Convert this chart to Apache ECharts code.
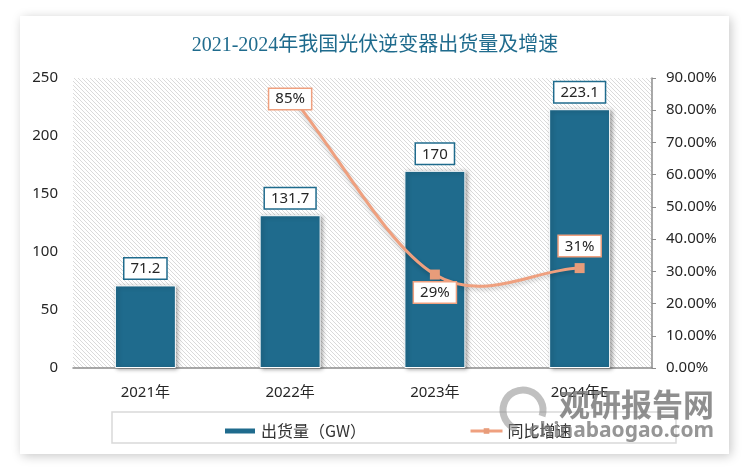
<!DOCTYPE html>
<html>
<head>
<meta charset="utf-8">
<script src="https://cdn.jsdelivr.net/npm/echarts@6/dist/echarts.min.js"></script>
<style>
html,body{margin:0;padding:0;background:#fff;}
#c{width:750px;height:471px;}
</style>
</head>
<body>
<div id="c"></div>
<script>
const categories = ['2021年', '2022年', '2023年', '2024年E'];
const shipments = [71.2, 131.7, 170, 223.1];
const growth = [null, 85, 29, 31];
const leftTicks = [0, 50, 100, 150, 200, 250];
const rightTicks = [0, 10, 20, 30, 40, 50, 60, 70, 80, 90];

const BAR = '#1F6B8D';
const LINE = '#EFA07F';
const growthLabelPos = [null, 'inside', 'bottom', 'top'];
const growthLabelDist = [0, 0, 3, 7];
const growthLabelOffset = [[0, 0], [0, 5], [0, 0], [0, 0]];

// hatch pattern
const pc = document.createElement('canvas');
const s = 4;
pc.width = s; pc.height = s;
const g = pc.getContext('2d');
g.fillStyle = '#ffffff';
g.fillRect(0, 0, s, s);
g.strokeStyle = '#dadada';
g.lineWidth = 1;
g.beginPath();
g.moveTo(0, 0); g.lineTo(s, s);
g.moveTo(-1, s - 1); g.lineTo(1, s + 1);
g.moveTo(s - 1, -1); g.lineTo(s + 1, 1);
g.stroke();

const chart = echarts.init(document.getElementById('c'), null, {renderer: 'canvas'});
const axisFont = "'Noto Sans', 'Noto Sans CJK SC', sans-serif";

// Excel-like smoothed curve through the growth points, positioned by the chart's own axes
function renderCurve(params, api) {
  const idx = [];
  growth.forEach((v, i) => { if (v != null) idx.push(i); });
  if (params.dataIndex !== idx[0]) return null;
  const pts = idx.map(i => api.coord([i, growth[i]]));
  const n = pts.length;
  const tan = pts.map((p, k) => {
    const a = pts[Math.max(k - 1, 0)];
    const b = pts[Math.min(k + 1, n - 1)];
    const f = (k === 0 || k === n - 1) ? 1 : 0.5;
    return [(b[0] - a[0]) * f, (b[1] - a[1]) * f];
  });
  const children = [];
  for (let k = 0; k < n - 1; k++) {
    const p0 = pts[k], p1 = pts[k + 1];
    children.push({
      type: 'bezierCurve',
      shape: {
        x1: p0[0], y1: p0[1], x2: p1[0], y2: p1[1],
        cpx1: p0[0] + tan[k][0] / 3, cpy1: p0[1] + tan[k][1] / 3,
        cpx2: p1[0] - tan[k + 1][0] / 3, cpy2: p1[1] - tan[k + 1][1] / 3
      },
      style: {
        fill: null, stroke: LINE, lineWidth: 3,
        shadowBlur: 4, shadowColor: 'rgba(0,0,0,0.22)', shadowOffsetY: 2
      }
    });
  }
  return {type: 'group', children: children};
}

const option = {
  animation: false,
  backgroundColor: '#ffffff',
  title: {
    text: '2021-2024年我国光伏逆变器出货量及增速',
    left: 'center',
    top: 31,
    textStyle: {
      color: '#1F6B8D',
      fontSize: 20,
      fontWeight: 'normal',
      fontFamily: "'Liberation Serif', 'Noto Sans CJK SC', serif"
    }
  },
  graphic: [
    {
      type: 'rect', z: -10,
      shape: {x: 20, y: 16, width: 709, height: 438},
      style: {fill: '#ffffff', shadowBlur: 10, shadowColor: 'rgba(0,0,0,0.22)', shadowOffsetX: 2, shadowOffsetY: 2}
    },
    {
      type: 'rect', z: -5,
      shape: {x: 112, y: 412, width: 564, height: 31},
      style: {fill: '#ffffff', stroke: '#d9d9d9', lineWidth: 1.5}
    },
    {
      type: 'arc', z: 100,
      shape: {cx: 523, cy: 410, r: 20, startAngle: Math.PI * 0.6, endAngle: Math.PI * 2.1},
      style: {fill: 'none', stroke: 'rgba(140,140,140,0.55)', lineWidth: 7}
    },
    {
      type: 'text', z: 100,
      style: {
        x: 714, y: 404, text: '观研报告网', align: 'right', verticalAlign: 'middle',
        font: "bold 31px 'Noto Sans CJK SC'", fill: 'rgba(115,115,115,0.8)'
      }
    },
    {
      type: 'text', z: 100,
      style: {
        x: 714, y: 431, text: 'chinabaogao.com', align: 'right', verticalAlign: 'middle',
        font: "bold 21px 'Noto Sans'", fill: 'rgba(115,115,115,0.75)'
      }
    }
  ],
  legend: {
    left: 218,
    top: 418,
    itemWidth: 32,
    itemHeight: 7,
    itemGap: 103,
    textStyle: {fontSize: 16, color: '#333', fontFamily: "'Noto Sans CJK SC', sans-serif"},
    data: [
      {name: '出货量（GW）', icon: 'rect'},
      {name: '同比增速', lineStyle: {color: LINE, width: 3, opacity: 1}}
    ]
  },
  grid: {
    left: 73, right: 98, top: 78, bottom: 103,
    show: true,
    borderWidth: 0,
    backgroundColor: {image: pc, repeat: 'repeat'}
  },
  xAxis: {
    type: 'category',
    data: categories,
    axisLine: {show: true, lineStyle: {color: '#8c8c8c', width: 1.5}},
    axisTick: {show: false},
    axisLabel: {color: '#262626', fontSize: 15, margin: 17, fontFamily: axisFont}
  },
  yAxis: [
    {
      type: 'value', min: leftTicks[0], max: leftTicks[leftTicks.length - 1], interval: 50,
      axisLine: {show: false}, axisTick: {show: false}, splitLine: {show: false},
      axisLabel: {color: '#262626', fontSize: 15, margin: 15, fontFamily: axisFont}
    },
    {
      type: 'value', min: rightTicks[0], max: rightTicks[rightTicks.length - 1], interval: 10,
      position: 'right',
      axisLine: {show: true, lineStyle: {color: '#8c8c8c', width: 1.5}},
      axisTick: {show: true, length: 4, lineStyle: {color: '#8c8c8c'}},
      splitLine: {show: false},
      axisLabel: {color: '#262626', fontSize: 15, margin: 14, fontFamily: axisFont,
        formatter: v => v.toFixed(2) + '%'}
    }
  ],
  series: [
    {
      name: '出货量（GW）',
      type: 'bar',
      data: shipments,
      barWidth: 61,
      itemStyle: {
        color: BAR, borderColor: '#ffffff', borderWidth: 1,
        shadowBlur: 4, shadowColor: 'rgba(0,0,0,0.35)', shadowOffsetX: 2, shadowOffsetY: 1
      },
      label: {
        show: true, position: 'top', distance: 7,
        color: '#262626', fontSize: 15, fontFamily: axisFont,
        backgroundColor: '#ffffff', borderColor: BAR, borderWidth: 1.5,
        padding: [3, 6, 2, 6]
      }
    },
    {
      name: '_curve',
      type: 'custom',
      yAxisIndex: 1,
      silent: true,
      z: 4,
      renderItem: renderCurve,
      data: growth.map((v, i) => [i, v == null ? '-' : v])
    },
    {
      name: '同比增速',
      type: 'line',
      yAxisIndex: 1,
      symbol: 'rect',
      symbolSize: 10,
      z: 5,
      data: growth.map((v, i) => ({
        value: v,
        label: {position: growthLabelPos[i] || 'top', distance: growthLabelDist[i], offset: growthLabelOffset[i]}
      })),
      lineStyle: {color: LINE, width: 3, opacity: 0},
      itemStyle: {color: '#E89C7A'},
      label: {
        show: true,
        formatter: p => p.value + '%',
        color: '#262626', fontSize: 15, fontFamily: axisFont,
        backgroundColor: '#ffffff', borderColor: LINE, borderWidth: 1.5,
        padding: [3, 6, 2, 6]
      }
    }
  ]
};
chart.setOption(option);
</script>
</body>
</html>
